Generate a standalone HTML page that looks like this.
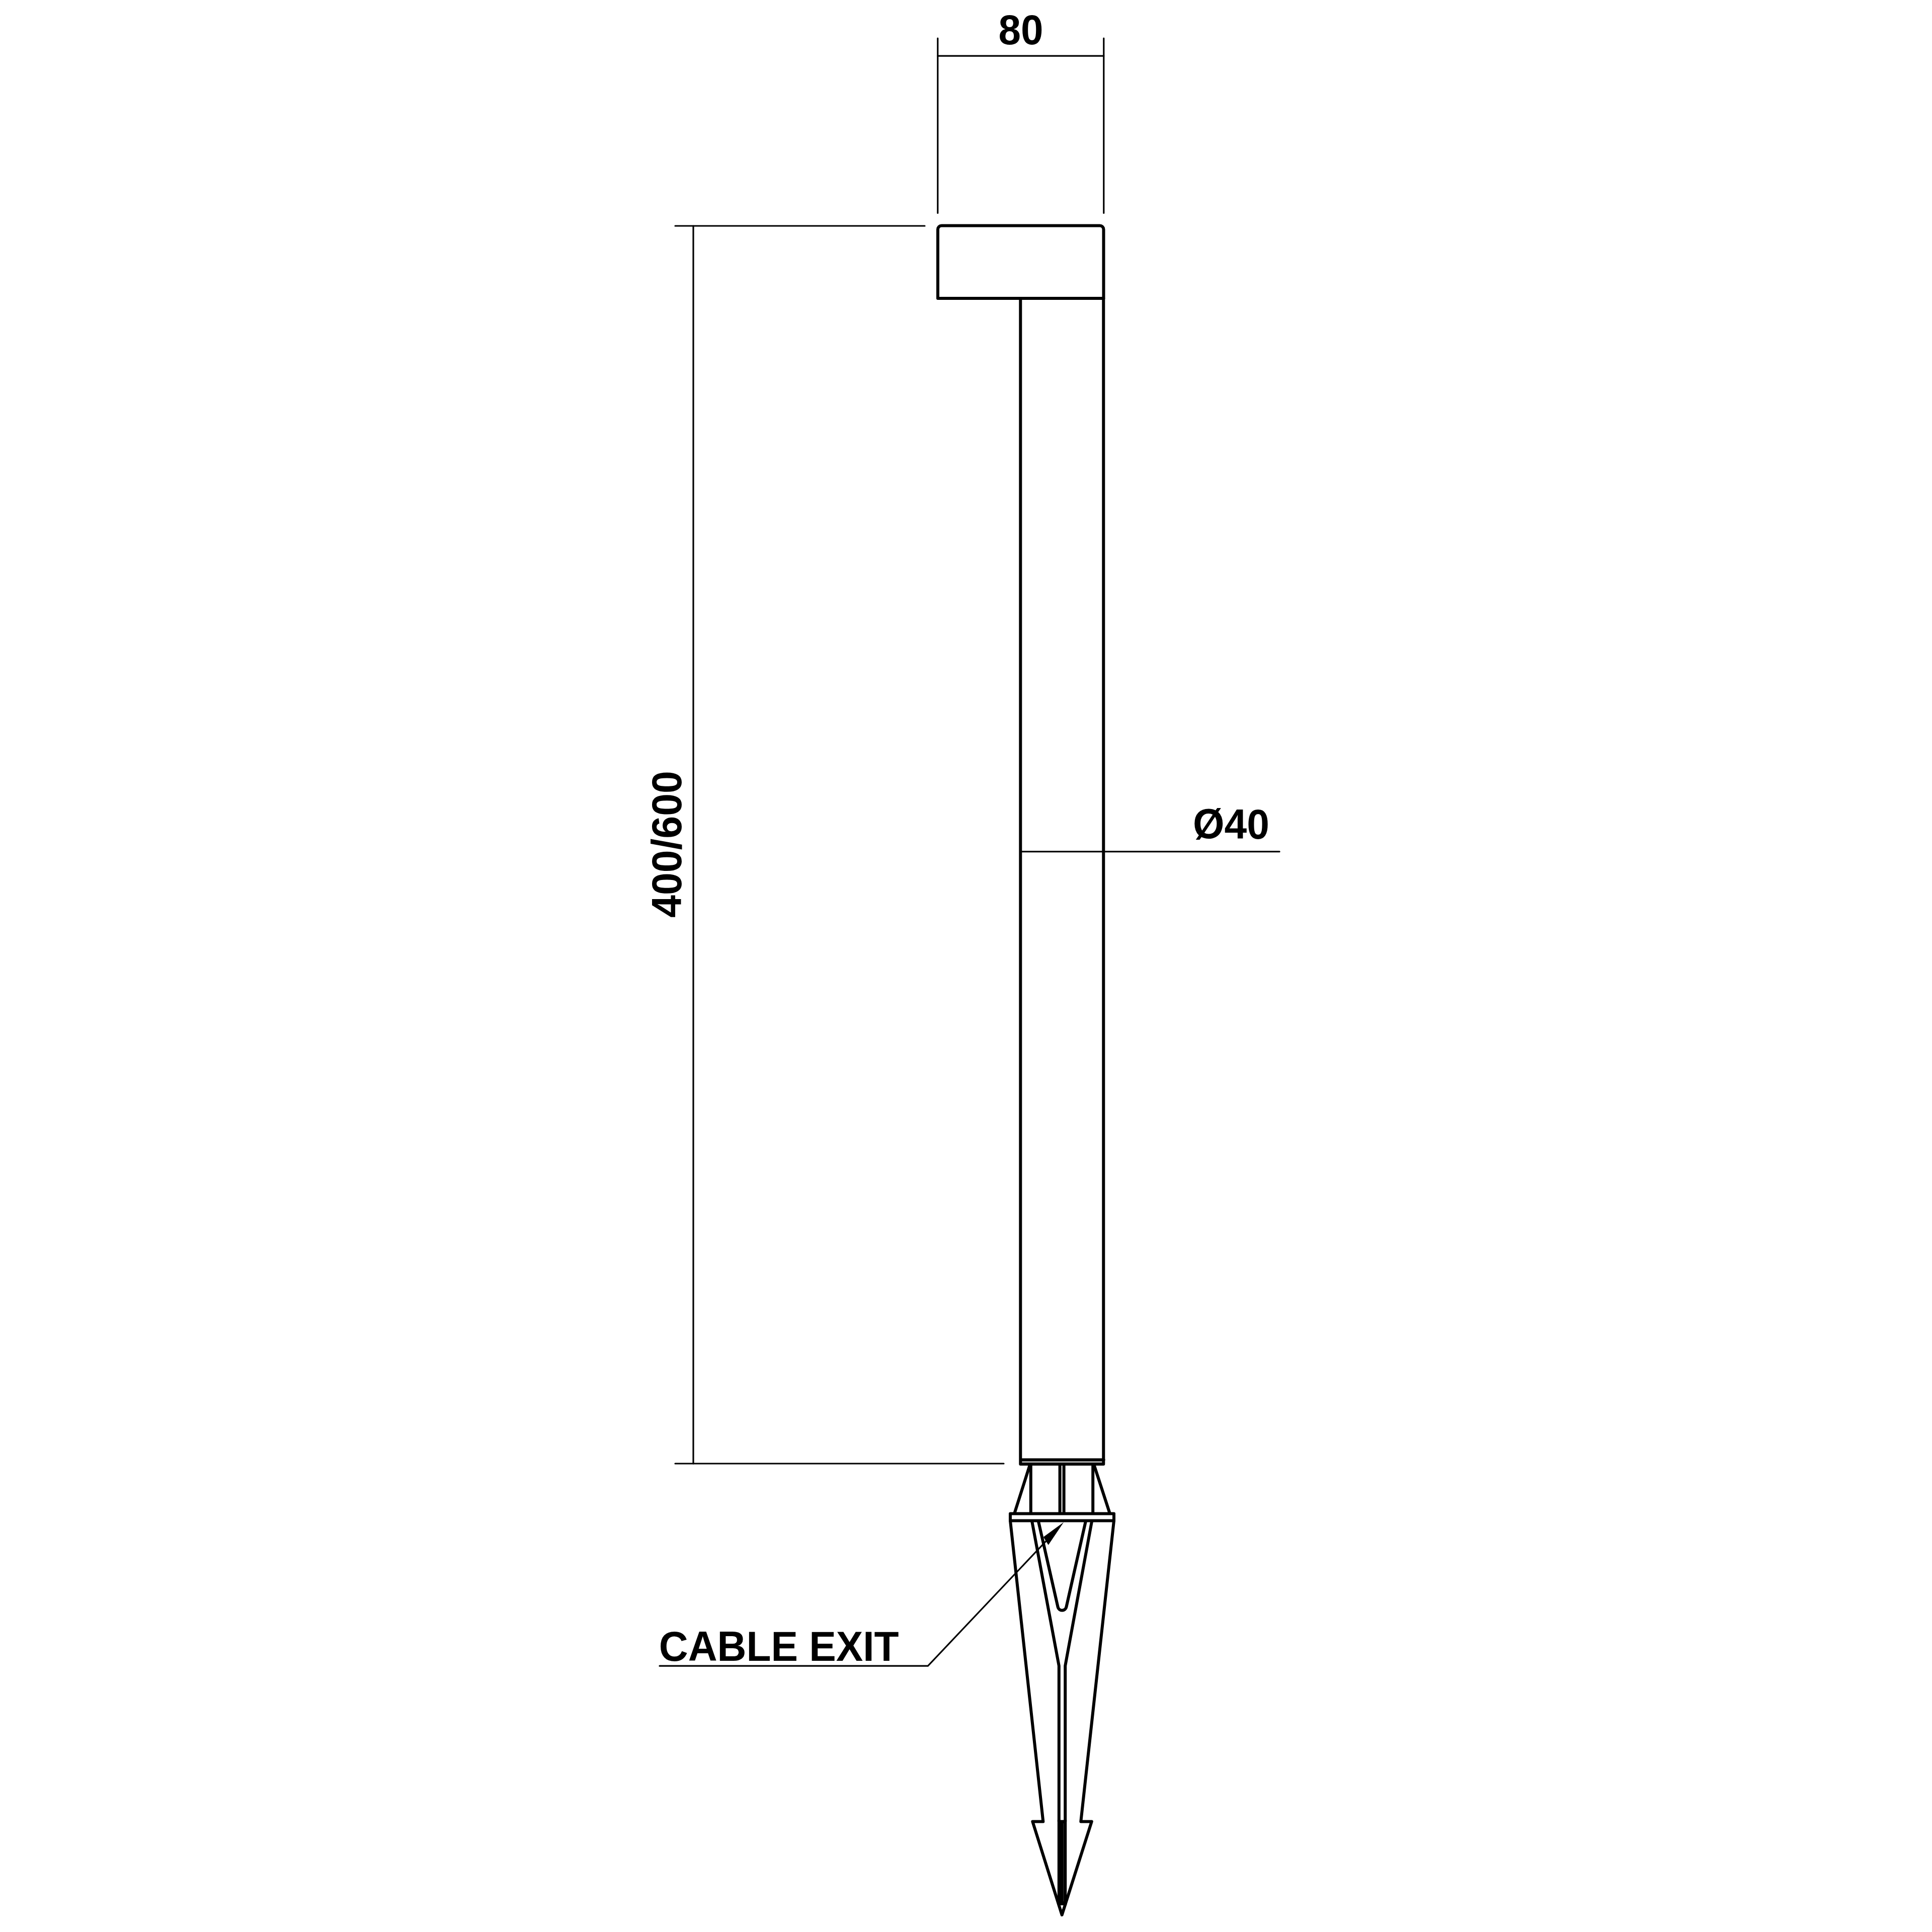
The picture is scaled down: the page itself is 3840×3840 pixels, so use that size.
<!DOCTYPE html>
<html lang="en">
<head>
<meta charset="utf-8">
<title>Dimension drawing</title>
<style>
html,body{margin:0;padding:0;background:#fff;}
body{width:3840px;height:3840px;overflow:hidden;}
svg{display:block;}
text{font-family:"Liberation Sans",Arial,Helvetica,sans-serif;font-weight:700;font-size:80px;fill:#000;}
.k{fill:none;stroke:#000;stroke-width:6;stroke-linecap:round;stroke-linejoin:round;}
.t{fill:none;stroke:#000;stroke-width:3.2;stroke-linecap:round;stroke-linejoin:round;}
</style>
</head>
<body>
<svg width="3840" height="3840" viewBox="0 0 3840 3840">
<rect width="3840" height="3840" fill="#fff"/>

<!-- top dimension 80 -->
<g class="t">
<line x1="1863.8" y1="76" x2="1863.8" y2="423.5"/>
<line x1="2193.8" y1="76" x2="2193.8" y2="423.5"/>
<line x1="1863.8" y1="111.1" x2="2193.8" y2="111.1"/>
</g>
<text transform="translate(2029 87.6) scale(1 1.04)" text-anchor="middle">80</text>

<!-- left dimension 400/600 -->
<g class="t">
<line x1="1342" y1="449" x2="1838" y2="449"/>
<line x1="1342" y1="2909" x2="1995" y2="2909"/>
<line x1="1378" y1="449" x2="1378" y2="2909"/>
</g>
<text transform="translate(1353.9 1678) rotate(-90) scale(1.01 1.05)" text-anchor="middle">400/600</text>

<!-- diameter label -->
<line class="t" x1="2031" y1="1692.7" x2="2543" y2="1692.7"/>
<text transform="translate(2371 1667.4) scale(1.005 1.05)">Ø40</text>

<!-- head -->
<path class="k" d="M1864 593 V456 A7.5 7.5 0 0 1 1871.5 448.5 H2186 A7.5 7.5 0 0 1 2193.5 456 V593 Z"/>
<!-- pole -->
<rect x="2031" y="2904.3" width="159.6" height="3" fill="#c4c4c4"/>
<path class="k" d="M2028.3 593 V2910.1 H2193.3 V593"/>
<line class="k" x1="2030" y1="2901.4" x2="2193.6" y2="2901.4"/>

<!-- neck between pole and collar -->
<g class="k">
<line x1="2048.8" y1="2910" x2="2048.8" y2="3008"/>
<line x1="2106.6" y1="2910" x2="2106.6" y2="3008"/>
<line x1="2114.6" y1="2910" x2="2114.6" y2="3008"/>
<line x1="2172.2" y1="2910" x2="2172.2" y2="3008"/>
<line x1="2046.8" y1="2912" x2="2016.3" y2="3008"/>
<line x1="2174.6" y1="2912" x2="2205.8" y2="3008"/>
<!-- collar -->
<rect x="2008" y="3008.4" width="206" height="14.1"/>
<!-- spike outer -->
<path d="M2008 3022.5 L2073.3 3620.4 H2052.3 L2110.7 3806 L2169.8 3620.4 H2148.3 L2214 3022.5"/>
<!-- outer V -->
<path d="M2051.2 3024 L2104.8 3311 V3620"/>
<path d="M2170 3024 L2117.2 3311 V3620"/>
<!-- inner V -->
<path d="M2064 3024 L2102.6 3194 A8.6 8.6 0 0 0 2119.4 3194 L2157.8 3024"/>
<!-- solid core -->
</g>
<rect x="2101.8" y="3617.4" width="18.4" height="169.6" fill="#000"/>
<line x1="2113.8" y1="3624" x2="2113.8" y2="3779" stroke="#3a3a3a" stroke-width="0.9"/>

<!-- cable exit leader -->
<path class="t" d="M1311 3311.2 H1844.3 L2100 3041"/>
<path d="M2114.2 3025.5 L2073.8 3055 L2083.7 3070.8 Z" fill="#000"/>
<text transform="translate(1309.7 3300.6) scale(1.003 1.04)">CABLE EXIT</text>
</svg>
</body>
</html>
